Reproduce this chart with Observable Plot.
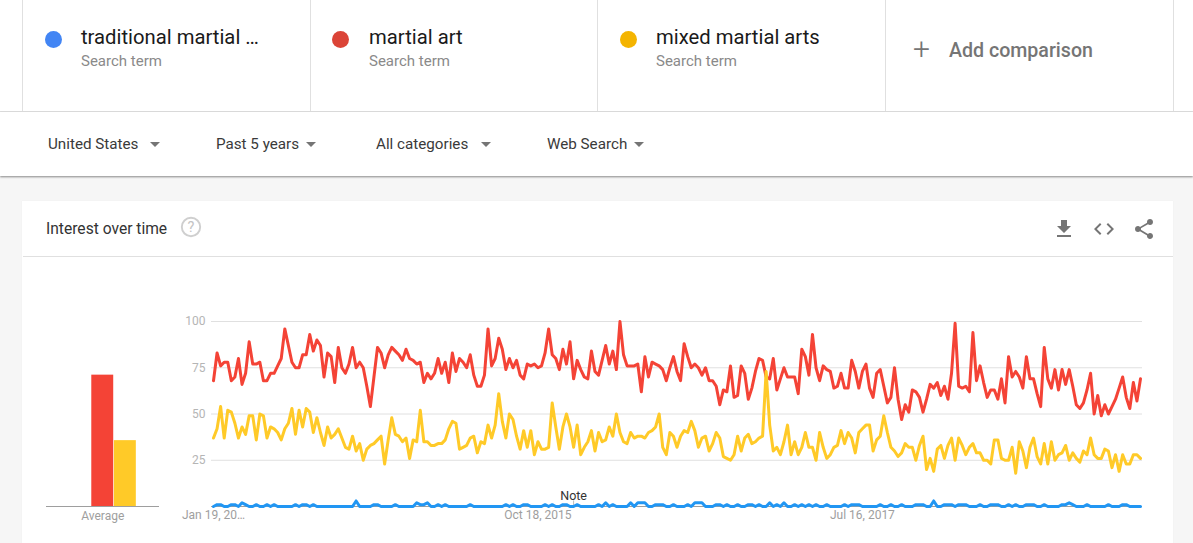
<!DOCTYPE html>
<html>
<head>
<meta charset="utf-8">
<script src="https://cdn.jsdelivr.net/npm/d3@7"></script>
<script src="https://cdn.jsdelivr.net/npm/@observablehq/plot@0.6"></script>
<style>
html,body{margin:0;padding:0;width:1193px;height:543px;overflow:hidden;background:#f6f6f6;font-family:Roboto,sans-serif;}
.abs{position:absolute;}
#terms{left:0;top:0;width:1193px;height:111px;background:#fff;border-bottom:1px solid #e0e0e0;}
#filters{left:0;top:112px;width:1193px;height:64px;background:#fff;box-shadow:0 1px 2px rgba(0,0,0,.45);}
#card{left:22px;top:201px;width:1151px;height:342px;background:#fff;box-shadow:0 0 1px rgba(0,0,0,.06);}
.vline{top:0;width:1px;height:111px;background:#e0e0e0;}
.dot{width:17px;height:17px;border-radius:50%;top:31px;}
.term{font-size:20.25px;color:#1a1a1a;top:25px;white-space:nowrap;}
.sub{font-size:15px;color:#8a8a8a;top:52.4px;white-space:nowrap;}
.filter{font-size:15.2px;color:#3a3a3a;top:135.3px;white-space:nowrap;}
.caret{width:0;height:0;border-left:5px solid transparent;border-right:5px solid transparent;border-top:5px solid #757575;top:142px;}
svg.plot{position:absolute;overflow:visible;background:transparent;}
</style>
</head>
<body>
<div id="terms" class="abs"></div>
<div id="filters" class="abs"></div>
<div id="card" class="abs"></div>
<div id="chrome"></div>
<div id="avg" class="abs" style="left:30px;top:300px;"></div>
<div id="main" class="abs" style="left:160px;top:300px;"></div>
<script>
const weeks = 261;
const startDate = new Date(Date.UTC(2014, 0, 19));
const termNames = ["traditional martial arts", "martial art", "mixed martial arts"];
const termLabels = ["traditional martial …", "martial art", "mixed martial arts"];
const termDots = ["#4285f4", "#db4437", "#f4b400"];
const lineColors = ["#2196f3", "#f44336", "#ffca28"];
const filterLabels = ["United States", "Past 5 years", "All categories", "Web Search"];
const yTicks = [25, 50, 75, 100];
const xTickDates = [new Date(Date.UTC(2014,0,19)), new Date(Date.UTC(2015,9,18)), new Date(Date.UTC(2017,6,16))];
const xTickLabels = ["Jan 19, 20…", "Oct 18, 2015", "Jul 16, 2017"];
const averages = [0.5, 71, 35.6];
const notes = [{date: new Date(Date.UTC(2015,11,27)), label: "Note"}];

const traditional = [
0,1,1,0,0,1,1,0,2,1, 0,0,1,0,0,1,0,1,0,0, 0,0,0,1,0,1,1,0,1,0, 0,0,0,0,0,0,0,0,0,0,
3,0,0,0,0,1,1,0,0,0, 0,1,0,0,0,0,0,2,1,1, 2,0,0,1,0,1,0,0,0,0, 0,0,1,0,0,0,0,0,0,0,
0,0,1,0,1,0,0,1,1,0, 0,0,0,1,0,1,0,0,1,1, 0,0,1,0,0,0,0,0,1,0, 2,0,1,0,0,0,0,2,0,2,
2,2,0,0,1,1,1,0,0,1, 0,0,0,1,0,2,2,2,0,0, 0,1,1,0,1,0,0,1,0,0, 1,1,0,1,0,0,2,0,1,0,
2,0,0,1,0,1,0,1,0,1, 0,0,1,0,0,0,0,1,0,1, 1,1,0,0,0,0,0,1,0,0, 1,0,0,1,0,0,0,1,1,1,
0,0,3,0,0,1,1,1,0,1, 1,1,0,0,0,1,0,0,1,1, 1,0,0,1,0,1,0,0,1,1, 1,0,0,1,0,0,0,0,1,1,
2,1,0,0,0,1,0,0,0,0, 0,1,0,0,0,1,1,0,0,0, 0];

const martialArt = [
68,83,76,78,78,68,70,80,66,72, 89,77,77,78,68,68,72,72,76,80, 96,87,78,75,75,82,82,93,84,90, 87,70,83,81,67,86,75,72,77,86,
75,78,75,65,54,70,86,83,75,82, 86,84,82,79,85,80,79,77,78,67, 72,69,72,80,72,78,67,83,73,80, 78,75,82,71,65,65,71,96,76,80,
91,85,74,80,75,79,71,69,77,76, 77,75,76,83,96,82,80,74,85,77, 89,69,79,74,70,69,84,73,71,79, 87,77,84,74,100,82,76,76,76,77,
62,81,70,78,77,76,74,68,75,81, 73,68,88,81,75,77,75,71,75,68, 68,65,55,63,62,76,59,60,76,72, 58,64,73,80,79,70,69,80,63,69,
75,70,70,70,61,85,81,71,93,75, 68,76,74,73,64,65,72,64,64,79, 73,64,73,77,64,59,72,74,65,56, 59,75,58,47,55,51,63,62,59,51,
58,66,64,67,60,65,58,72,99,65, 64,65,62,94,68,76,67,59,63,63, 58,69,56,81,70,73,70,64,81,69, 69,61,54,86,69,64,74,63,74,66,
74,65,55,53,56,63,72,50,60,49, 55,50,54,58,64,70,59,53,67,57, 69];

const mixedMartial = [
37,42,54,37,52,51,45,37,43,39, 49,49,36,50,49,37,43,42,40,36, 42,45,53,39,52,43,53,51,40,48, 40,33,43,37,39,42,37,32,31,38,
30,34,25,31,33,34,36,38,23,36, 48,39,38,35,37,26,36,35,52,35, 35,33,33,34,34,36,42,46,45,31, 32,33,37,38,29,35,34,44,37,44,
61,46,37,50,47,38,31,41,32,41, 28,35,31,31,32,56,43,31,43,50, 43,32,44,28,32,35,41,30,40,35, 36,43,38,50,40,35,34,40,37,38,
38,37,40,41,43,50,32,28,40,38, 32,38,41,40,46,41,32,37,38,30, 34,40,37,27,26,25,28,38,30,37, 39,34,35,37,38,73,44,30,32,28,
35,44,28,35,28,32,40,32,32,25, 40,32,26,28,32,33,41,34,40,37, 29,40,42,44,44,30,36,38,49,40, 32,30,27,29,34,32,32,25,33,38,
20,26,19,31,33,26,33,37,25,37, 33,28,32,34,29,29,25,25,23,36, 36,26,25,25,32,18,35,30,21,32, 37,27,23,34,23,35,25,28,29,33,
25,29,26,24,30,28,37,28,26,26, 31,30,21,28,19,28,23,23,28,28, 26];

const seriesValues = [traditional, martialArt, mixedMartial];
const weekDates = d3.utcWeek.range(startDate, d3.utcWeek.offset(startDate, weeks));

const gridColor = "#e0e0e0", labelColor = "#b5b5b5";

const mainPlot = Plot.plot({
  width: 1000, height: 240, marginLeft: 53, marginRight: 20, marginTop: 21, marginBottom: 34,
  style: {fontFamily: "Roboto, sans-serif", fontSize: "12px", background: "transparent"},
  x: {type: "utc", domain: [weekDates[0], weekDates[weeks - 1]]},
  y: {domain: [0, 100]},
  marks: [
    Plot.ruleY(yTicks, {stroke: gridColor, strokeWidth: 1, insetLeft: -2, insetRight: -2}),
    Plot.ruleY([0], {stroke: "#9e9e9e", strokeWidth: 1, insetLeft: -2, insetRight: -2}),
    Plot.axisY({ticks: yTicks, tickSize: 0, tickPadding: 8, label: null, color: labelColor, fontSize: 12, anchor: "left"}),
    Plot.axisX({ticks: xTickDates, tickFormat: (d, i) => xTickLabels[i], tickSize: 0, tickPadding: 4, label: null, color: "#9e9e9e", fontSize: 12, anchor: "bottom"}),
    Plot.ruleX(notes, {x: "date", y1: 0, y2: 3, stroke: "#bdbdbd"}),
    Plot.text(notes, {x: "date", y: 5.5, text: "label", fill: "#333", fontSize: 12.5}),
    ...seriesValues.map((vals, s) => Plot.line(vals, {
      x: (d, i) => weekDates[i], y: d => d,
      stroke: lineColors[s], strokeWidth: 3, strokeLinejoin: "round", strokeLinecap: "round"
    }))
  ]
});
document.getElementById("main").appendChild(mainPlot);

const avgPlot = Plot.plot({
  width: 140, height: 240, marginLeft: 38, marginRight: 33.5, marginTop: 21, marginBottom: 34,
  style: {fontFamily: "Roboto, sans-serif", fontSize: "12px", background: "transparent"},
  x: {domain: termNames, padding: 0.03, round: false, axis: null},
  y: {domain: [0, 100], axis: null},
  color: {domain: termNames, range: lineColors},
  marks: [
    Plot.barY(averages.slice(1), {x: (d, i) => termNames[i + 1], y: d => d, fill: (d, i) => termNames[i + 1]}),
    Plot.ruleY([0], {stroke: "#9e9e9e", strokeWidth: 1, insetLeft: -22, insetRight: -22.5}),
    Plot.text(["Average"], {x: () => termNames[1], y: 0, dy: 10, text: d => d, fill: "#9e9e9e", fontSize: 12})
  ]
});
document.getElementById("avg").appendChild(avgPlot);

// page chrome
const chrome = document.getElementById("chrome");
function add(cls, left, text, extra) {
  const e = document.createElement("div");
  e.className = "abs " + cls;
  e.style.left = left + "px";
  if (text) e.textContent = text;
  if (extra) Object.assign(e.style, extra);
  chrome.appendChild(e);
  return e;
}
[22, 310, 597, 885, 1173].forEach(x => add("vline", x));
[45, 332, 620].forEach((x, i) => {
  add("dot", x, null, {background: termDots[i]});
  const tx = [81, 369, 656][i];
  add("term", tx, termLabels[i]);
  add("sub", tx, "Search term");
});
add("", 913, "+", {fontSize: "30px", fontWeight: "300", color: "#757575", top: "31px"});
add("", 949, "Add comparison", {fontSize: "19.6px", fontWeight: "500", color: "#757575", top: "39px", whiteSpace: "nowrap"});
[48, 216, 376, 547].forEach((x, i) => add("filter", x, filterLabels[i]));
[150, 306, 481, 634].forEach(x => add("caret", x));
add("", 23, null, {top: "256px", width: "1150px", height: "1px", background: "#e0e0e0"});
add("", 46, "Interest over time", {fontSize: "15.6px", color: "#333", top: "220px", whiteSpace: "nowrap"});
const icons = document.createElement("div");
icons.innerHTML = `
<svg class="abs" style="left:178px;top:214px" width="26" height="26" viewBox="0 0 26 26"><circle cx="13" cy="13" r="9.2" fill="none" stroke="#cfcfcf" stroke-width="1.9"/><text x="13" y="18.2" text-anchor="middle" font-family="Roboto" font-size="14.5" fill="#c4c4c4">?</text></svg>
<svg class="abs" style="left:1052px;top:217px" width="24" height="24" viewBox="0 0 24 24"><path d="M19 9h-4V3H9v6H5l7 7 7-7zM5 18v2h14v-2H5z" fill="#757575"/></svg>
<svg class="abs" style="left:1092px;top:217px" width="24" height="24" viewBox="0 0 24 24"><path d="M9.4 16.6L4.800 12l4.600-4.600L8 6l-6 6 6 6 1.400-1.400zm5.200 0l4.600-4.600-4.600-4.600L16 6l6 6-6 6-1.400-1.400z" fill="#757575"/></svg>
<svg class="abs" style="left:1132px;top:217px" width="24" height="24" viewBox="0 0 24 24"><path d="M18 16.100c-.8 0-1.400.3-2 .8l-7.100-4.200c.1-.2.1-.5.1-.7s0-.5-.1-.7L16 7.200c.5.5 1.200.8 2 .8 1.700 0 3-1.300 3-3s-1.300-3-3-3-3 1.300-3 3c0 .2 0 .5.1.7L8 9.900C7.500 9.400 6.800 9 6 9c-1.700 0-3 1.300-3 3s1.300 3 3 3c.8 0 1.500-.3 2-.8l7.100 4.200c-.1.2-.1.4-.1.6 0 1.600 1.300 2.900 3 2.900s3-1.300 3-2.900-1.300-2.900-3-2.900z" fill="#757575"/></svg>`;
chrome.appendChild(icons);
</script>
</body>
</html>
